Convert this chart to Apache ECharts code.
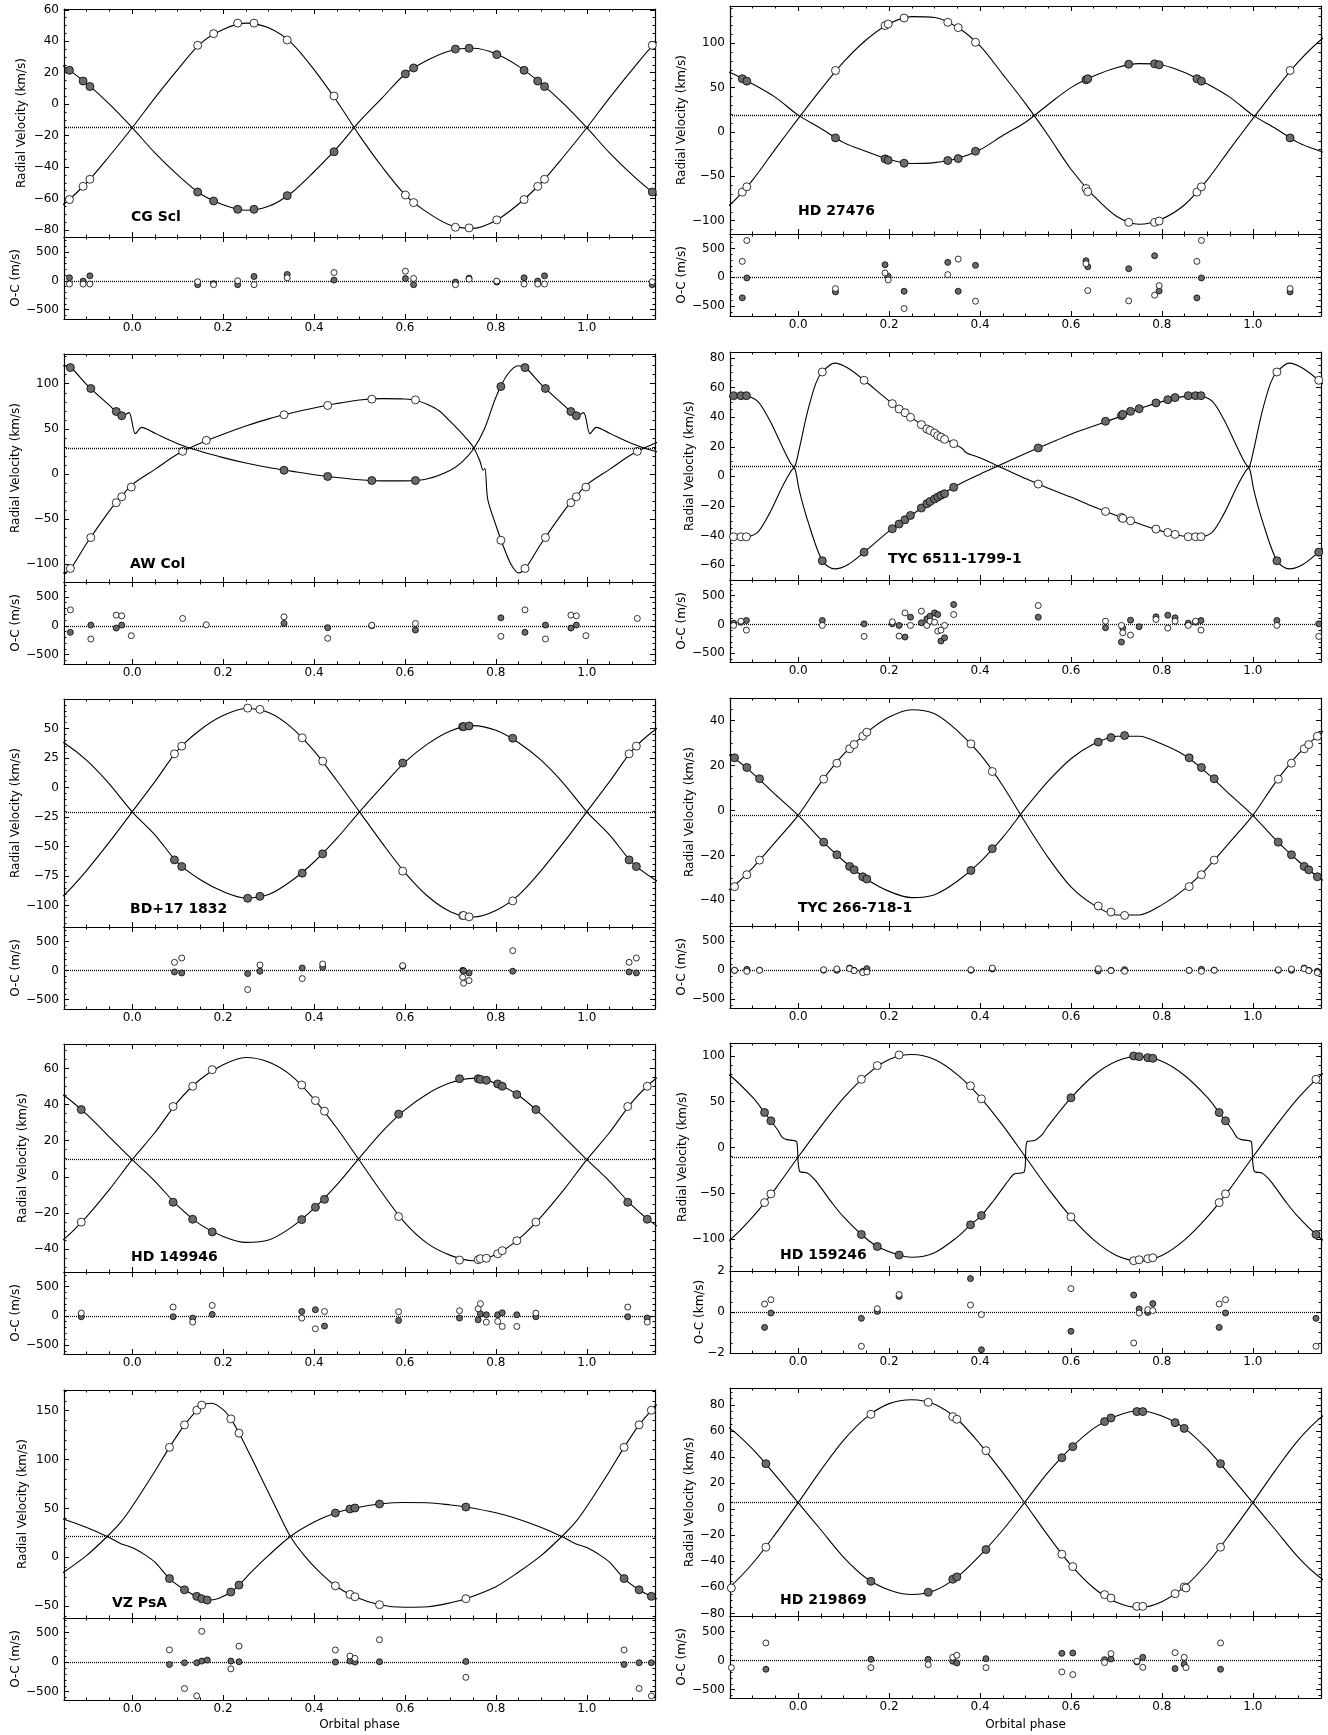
<!DOCTYPE html>
<html>
<head>
<meta charset="utf-8">
<title>Radial velocity curves</title>
<script src="https://cdn.jsdelivr.net/npm/echarts@6/dist/echarts.min.js"></script>
<style>
  html, body { margin: 0; padding: 0; background: #fff; }
  #chart { width: 1328px; height: 1735px; }
</style>
</head>
<body>
<div id="chart"></div>
<script>
// shared ticks
const phaseTicks = [0, 0.2, 0.4, 0.6, 0.8, 1.0];
const ocTicksMs = [-500, 0, 500];
const ocTicksKms = [-2, 0, 2];
const fitPhase = [0, 0.05, 0.1, 0.15, 0.2, 0.25, 0.3, 0.35, 0.4, 0.45, 0.5, 0.55, 0.6, 0.65, 0.7, 0.75, 0.8, 0.85, 0.9, 0.95];

// CG Scl
const cgSclPhase = [0.144, 0.179, 0.232, 0.268, 0.341, 0.444, 0.601, 0.619, 0.711, 0.741, 0.802, 0.862, 0.892, 0.907];
const cgSclRvFilled = [-55.9, -61.6, -66.9, -66.9, -58.2, -30.3, 19.2, 23.0, 35.0, 35.5, 31.5, 21.5, 14.7, 11.2];
const cgSclRvOpen = [37.4, 44.8, 51.5, 51.5, 40.8, 5.2, -57.8, -62.6, -78.3, -78.7, -73.6, -60.7, -52.3, -47.8];
const cgSclOcFilled = [-68, -50, -68, 74, 108, 11, 40, -68, -23, 45, -23, 51, -6, 85];
const cgSclOcOpen = [-17, -68, 0, -68, 51, 142, 165, 40, -68, 28, -6, -57, -57, -57];
const cgSclFitFilled = [-15, -31, -45, -57, -64, -67.5, -65, -56.5, -43, -28, -11, 4, 19, 28, 34, 35.5, 32, 24, 13, 0];
const cgSclFitOpen = [-15, 4, 22, 38.5, 47.5, 51.5, 48.5, 39, 22, 2, -20, -40, -57.5, -69, -77, -79, -74, -63.5, -50, -33];
const cgSclTicks = [-80, -60, -40, -20, 0, 20, 40, 60];

// HD 27476
const hd27476Phase = [0.082, 0.191, 0.198, 0.233, 0.329, 0.352, 0.39, 0.633, 0.637, 0.727, 0.784, 0.794, 0.877, 0.887];
const hd27476RvFilled = [-6.7, -30.3, -31.8, -35.2, -32.2, -30.0, -21.7, 58.8, 60.0, 76.4, 76.8, 75.7, 60.0, 57.3];
const hd27476RvOpen = [69.3, 119.9, 121.7, 128.5, 123.6, 117.6, 101.1, -63.7, -67.4, -101.9, -101.9, -100.4, -67.8, -61.8];
const hd27476OcFilled = [-253, 218, 17, -241, 259, -241, 207, 287, 184, 149, 374, -236, -356, -11];
const hd27476OcOpen = [-195, 75, -46, -540, 46, 316, -414, 236, -230, -408, -310, -144, 276, 638];
const hd27476FitFilled = [19, 4, -12, -22, -31, -35.5, -34.5, -30, -20, -4, 11, 31, 50, 63, 72.5, 77, 75.5, 67, 54, 39];
const hd27476FitOpen = [15, 48, 79, 104, 122, 130, 129, 118, 97, 65, 32, -4, -42, -72, -95, -104, -98, -82, -54, -19];
const hd27476Ticks = [-100, -50, 0, 50, 100];

// AW Col
const awColPhase = [0.111, 0.163, 0.334, 0.43, 0.527, 0.623, 0.811, 0.864, 0.909, 0.965, 0.977, 0.998];
const awColRvFilled = [null, null, 4.0, -2.9, -7.4, -7.4, 96.9, 117.9, 94.7, 69.2, 64.5, null];
const awColRvOpen = [25.0, 37.2, 65.6, 75.9, 82.9, 82.1, -73.7, -105.0, -70.7, -32.0, -25.4, -14.7];
const awColOcFilled = [null, null, 40, -34, 0, -74, 137, -114, 11, -40, 11, null];
const awColOcOpen = [126, 17, 154, -217, 10, 40, -183, 274, -229, 183, 171, -171];
const awColFitPhaseFilled = [0.007, 0.021, 0.05, 0.1, 0.15, 0.2, 0.25, 0.3, 0.35, 0.4, 0.45, 0.5, 0.55, 0.6, 0.65, 0.7, 0.725, 0.75, 0.775, 0.8, 0.825, 0.85, 0.865, 0.9, 0.95, 0.979, 0.993];
const awColFitFilled = [44.6, 51.6, 45, 33.5, 25, 18, 12, 7, 3, -1, -4, -6.5, -7.8, -7.8, -5.5, 4, 13, 27, 50, 85, 110, 120, 118, 99, 76, 64.5, 68];
const awColFitPhaseOpen = [0.0, 0.05, 0.1, 0.15, 0.2, 0.25, 0.3, 0.35, 0.4, 0.45, 0.5, 0.55, 0.6, 0.625, 0.65, 0.675, 0.7, 0.725, 0.75, 0.765, 0.772, 0.776, 0.782, 0.8, 0.82, 0.835, 0.85, 0.865, 0.9, 0.95, 0.975];
const awColFitOpen = [-12, 5, 22, 34, 44, 53, 61, 67.5, 73, 78, 82, 83.5, 83, 81.5, 77, 70, 58, 45, 30, 14, 4, 6, -28, -57, -85, -102, -110, -105, -77, -41, -26];
const awColTicks = [-100, -50, 0, 50, 100];

// TYC 6511-1799-1
const tyc6511Phase = [0.053, 0.145, 0.207, 0.222, 0.235, 0.247, 0.271, 0.283, 0.29, 0.3, 0.307, 0.314, 0.322, 0.342, 0.528, 0.676, 0.711, 0.714, 0.731, 0.75, 0.787, 0.813, 0.829, 0.858, 0.874, 0.886];
const tyc6511RvFilled = [-57, -51.2, -35.4, -32.2, -29.3, -26.4, -21.4, -18.5, -17.0, -15.3, -14.0, -12.8, -11.7, -7.4, 19.2, 37.2, 41.0, 41.9, 43.9, 45.7, 49.6, 51.8, 53.2, 54.5, 54.5, 54.5];
const tyc6511RvOpen = [70.5, 64.9, 49.1, 45.5, 43.0, 39.9, 34.9, 32.0, 31.0, 29.3, 27.5, 26.5, 25.0, 22.1, -5.2, -23.7, -27.7, -28.4, -30.0, null, -35.6, -37.9, -39.2, -40.8, -40.8, -40.8];
const tyc6511OcFilled = [69, 11, 11, -17, -218, 126, 29, 98, 144, 201, 172, -287, -230, 345, 126, -57, -305, -63, 75, -40, 132, 161, 115, 23, 40, 69];
const tyc6511OcOpen = [-17, -207, 46, -201, 201, -17, 230, -17, 57, 40, -115, -98, -17, 172, 328, 57, -17, -144, -184, null, 86, -63, 57, -17, 57, -98];
const tyc6511FitPhaseFilled = [0.002, 0.02, 0.053, 0.08, 0.11, 0.145, 0.2, 0.25, 0.3, 0.35, 0.4, 0.45, 0.5, 0.55, 0.6, 0.65, 0.7, 0.75, 0.8, 0.85, 0.88, 0.91, 0.937, 0.965, 0.983, 0.993];
const tyc6511FitFilled = [-9, -29, -57, -62.5, -59.5, -51.2, -37, -26, -15.3, -6, 1.5, 8.5, 15.5, 22, 28.5, 34, 39.5, 45.7, 50.5, 54, 54.5, 51, 38, 20, 9, 5];
const tyc6511FitPhaseOpen = [0.002, 0.02, 0.039, 0.053, 0.08, 0.11, 0.145, 0.2, 0.25, 0.3, 0.342, 0.36, 0.37, 0.4, 0.45, 0.5, 0.55, 0.6, 0.65, 0.7, 0.75, 0.8, 0.85, 0.88, 0.91, 0.937, 0.965, 0.983, 0.993];
const tyc6511FitOpen = [18, 43, 63, 70.5, 76.5, 73, 64.9, 51, 39.5, 29.3, 22.1, 19, 16, 12.5, 5.5, -1.5, -8, -14, -20.5, -26.5, -32, -37, -40.5, -40.8, -38, -25, -7, 3, 7];
const tyc6511Ticks = [-60, -40, -20, 0, 20, 40, 60, 80];

// BD+17 1832
const bd17Phase = [0.093, 0.109, 0.254, 0.281, 0.374, 0.419, 0.595, 0.727, 0.729, 0.741, 0.837];
const bd17RvFilled = [-61.2, -66.8, -93.7, -92.0, -72.4, -56.1, 20.8, 51.6, 51.6, 52.2, 41.8];
const bd17RvOpen = [28.6, 35.1, 67.3, 66.2, 42.1, 22.4, -70.7, -108.3, -108.3, -109.4, -95.9];
const bd17OcFilled = [-23, -40, -51, -11, 46, 57, 74, 5, -5, -40, -11];
const bd17OcOpen = [143, 217, -326, 97, -137, 114, 86, -114, -217, -171, 343];
const bd17FitFilled = [-20.5, -40, -63.5, -78, -88, -93.5, -90.5, -79, -63, -43, -20.5, 1, 21.5, 37, 48, 52.5, 48.5, 38, 23, 3];
const bd17FitOpen = [-20.5, 5, 31.5, 49, 61, 67, 63.5, 51, 31, 6, -20.5, -47, -72, -92, -105, -109.5, -104, -91, -70, -46];
const bd17Ticks = [-100, -75, -50, -25, 0, 25, 50];

// TYC 266-718-1
const tyc266Phase = [0.056, 0.085, 0.113, 0.123, 0.142, 0.151, 0.38, 0.427, 0.66, 0.688, 0.718, 0.86, 0.887, 0.915];
const tyc266RvFilled = [-14.1, -19.7, -24.9, -26.4, -29.5, -30.5, -26.7, -17.0, 30.4, 32.4, 33.3, 23.4, 19.1, 14.1];
const tyc266RvOpen = [13.9, 21.0, 27.4, 29.3, 33.0, 34.8, 29.6, 17.3, -42.5, -45.2, -46.7, -33.9, -28.6, -22.1];
const tyc266OcFilled = [0, 0, 40, 0, -17, 29, 0, 23, -11, 0, 11, 0, 17, 5];
const tyc266OcOpen = [11, 23, 29, -6, -40, -29, 11, 40, 29, -6, -17, 0, -17, 0];
const tyc266FitFilled = [-2.2, -13, -22.5, -30.5, -36, -38.8, -37.5, -31.5, -23, -12, 1, 13, 23, 29.5, 33, 33, 29.5, 24.5, 16.5, 7];
const tyc266FitOpen = [-2.2, 12.5, 25, 34.5, 41.5, 44.8, 43, 35.5, 25, 11, -5.5, -21, -34, -42, -46.5, -46.5, -42, -35, -25.5, -14];
const tyc266Ticks = [-40, -20, 0, 20, 40];

// HD 149946
const hd149946Phase = [0.09, 0.133, 0.176, 0.373, 0.403, 0.423, 0.586, 0.72, 0.761, 0.766, 0.779, 0.804, 0.814, 0.846, 0.888];
const hd149946RvFilled = [-14.1, -23.5, -30.5, -23.7, -16.9, -12.5, 34.7, 54.3, 54.3, 53.9, 53.4, 51.4, 50.1, 45.5, 37.2];
const hd149946RvOpen = [38.9, 50.1, 59.3, 50.8, 42.2, 36.3, -22.0, -46.1, -45.9, -45.3, -45.1, -42.6, -40.9, -35.4, -25.1];
const hd149946OcFilled = [-17, -40, 23, 74, 103, -177, -80, -40, -69, 34, 17, 17, 51, 17, -17];
const hd149946OcOpen = [149, -109, 177, -40, -223, 74, 69, 86, 120, 206, -109, -97, -183, -183, 46];
const hd149946FitFilled = [9.5, -2.5, -16, -26.5, -33, -36.3, -35, -28, -17.5, -4.5, 10.5, 25, 37, 46, 52, 54.5, 51.8, 45, 34.5, 22];
const hd149946FitOpen = [9.5, 24.5, 41.5, 54, 62, 66, 63.5, 56, 43, 27, 9, -9, -25.5, -37, -43.5, -46.5, -43, -34.5, -22, -7];
const hd149946Ticks = [-40, -20, 0, 20, 40, 60];

// HD 159246 (O-C in km/s)
const hd159246Phase = [0.139, 0.174, 0.222, 0.379, 0.403, 0.6, 0.738, 0.75, 0.769, 0.78, 0.926, 0.94];
const hd159246RvFilled = [-95.1, -108.2, -117.6, -84.6, -74.4, 54.1, 99.8, 99.1, 98.0, 97.3, 38.1, 29.0];
const hd159246RvOpen = [74.4, 89.3, 100.9, 67.2, 53.0, -75.9, -123.8, -122.7, -121.6, -120.5, -60.3, -50.8];
const hd159246OcFilled = [-0.31, 0.03, 0.76, 1.63, -1.84, -0.94, 0.83, 0.15, -0.02, 0.41, -0.75, -0.05];
const hd159246OcOpen = [-1.67, 0.16, 0.85, 0.34, -0.13, 1.14, -1.51, -0.05, 0.11, 0.07, 0.39, 0.6];
const hd159246FitPhaseFilled = [0.003, 0.02, 0.035, 0.05, 0.075, 0.1, 0.139, 0.174, 0.222, 0.25, 0.3, 0.35, 0.379, 0.403, 0.43, 0.45, 0.465, 0.475, 0.497, 0.503, 0.52, 0.535, 0.55, 0.6, 0.65, 0.7, 0.75, 0.8, 0.85, 0.9, 0.926, 0.94, 0.955, 0.965, 0.975, 0.99, 0.997];
const hd159246FitFilled = [-26, -28, -34.5, -44, -61, -76, -95.1, -108.2, -117.6, -120, -115, -98, -84.6, -74.4, -58, -44.5, -34.5, -29, -27, 6, 7.5, 13, 23.5, 54, 78.5, 94, 99.5, 94, 78.5, 54.5, 38.1, 29, 19, 11, 8.5, 7.5, 6];
const hd159246FitOpen = [-10.5, 23, 54, 79, 96, 101.5, 96, 79.5, 55, 24, -10.5, -45, -76, -101, -118, -124, -118, -101, -76, -45];
const hd159246Ticks = [-100, -50, 0, 50, 100];

// VZ PsA
const vzPsAPhase = [0.082, 0.115, 0.142, 0.153, 0.165, 0.217, 0.235, 0.447, 0.479, 0.49, 0.544, 0.734];
const vzPsARvFilled = [-21.7, -33.2, -39.9, -42.3, -43.7, -35.5, -28.4, 45.3, 49.4, 50.4, 54.5, 51.4];
const vzPsARvOpen = [112.4, 135.4, 150.3, 155.6, null, 141.5, 126.9, -29.1, -37.9, -40.3, -48.4, -42.3];
const vzPsAOcFilled = [-40, -11, -11, 17, 34, 17, 6, 0, 17, 0, 6, 11];
const vzPsAOcOpen = [206, -446, -571, 520, null, -114, 269, 206, 103, 63, 377, -257];
const vzPsAFitPhaseFilled = [0.0, 0.03, 0.05, 0.082, 0.115, 0.142, 0.165, 0.19, 0.217, 0.235, 0.26, 0.3, 0.348, 0.4, 0.447, 0.49, 0.544, 0.6, 0.65, 0.7, 0.734, 0.8, 0.85, 0.9, 0.945, 0.975];
const vzPsAFitFilled = [10, 2, -5, -21.7, -33.2, -39.9, -43.7, -42, -35.5, -28.4, -16, 2, 21.3, 36, 45.3, 50.4, 54.5, 56, 55.8, 53.5, 51.4, 45.5, 39, 30.5, 21.3, 14];
const vzPsAFitPhaseOpen = [0.0, 0.05, 0.082, 0.115, 0.142, 0.153, 0.175, 0.2, 0.217, 0.235, 0.26, 0.28, 0.3, 0.32, 0.348, 0.38, 0.41, 0.447, 0.49, 0.544, 0.6, 0.65, 0.7, 0.734, 0.8, 0.85, 0.9, 0.945, 0.975];
const vzPsAFitOpen = [52, 88, 112.4, 135.4, 150.3, 155.6, 157.5, 151, 141.5, 127, 104, 85, 66, 47, 21.3, 1, -14, -29, -40.3, -48.4, -51, -50.5, -46.5, -42.3, -30, -15, 2, 21.3, 36];
const vzPsATicks = [-50, 0, 50, 100, 150];

// HD 219869
const hd219869Phase = [0.16, 0.286, 0.34, 0.349, 0.413, 0.58, 0.604, 0.674, 0.688, 0.745, 0.758, 0.829, 0.849, 0.853, 0.929];
const hd219869RvFilled = [-55.4, -63.8, -53.8, -52.0, -31.0, 39.5, 48.0, 67.2, 70.0, 74.9, 74.9, 66.4, 62.0, null, 34.9];
const hd219869RvOpen = [72.8, 82.0, 71.0, 69.0, 44.9, -34.6, -44.1, -65.6, -68.2, -74.6, -74.6, -64.9, -59.7, -60.5, -29.2];
const hd219869OcFilled = [23, 23, -11, -40, 34, 126, 132, 17, 29, -23, 57, -138, -63, null, -149];
const hd219869OcOpen = [-121, -69, 57, 92, -121, -195, -241, -34, 121, -11, -115, 138, 57, -121, 305];
const hd219869FitFilled = [5, -16, -37, -53, -62, -65.5, -62.5, -52, -35.5, -16, 6, 28.5, 47, 62, 71.5, 75.5, 71.5, 62, 46, 26];
const hd219869FitOpen = [5, 30, 53, 70.5, 81, 84, 80.5, 69, 50, 28, 4, -20.5, -43, -60.5, -71.5, -75.5, -71, -59.5, -41.5, -19];
const hd219869Ticks = [-80, -60, -40, -20, 0, 20, 40, 60, 80];

const panels = [
  { name: 'CG Scl', col: 0, row: 0, phase: cgSclPhase, rvF: cgSclRvFilled, rvO: cgSclRvOpen, ocF: cgSclOcFilled, ocO: cgSclOcOpen,
    fitPF: fitPhase, fitF: cgSclFitFilled, fitPO: fitPhase, fitO: cgSclFitOpen, gamma: -14.5,
    rvTicks: cgSclTicks, rvMinor: 5, rvRange: [-84.5, 60.5], ocTicks: ocTicksMs, ocMinor: 100, ocRange: [-660, 755], ocName: 'O-C (m/s)',
    label: [131, 219], rvTitleX: 21.5, ocTitleX: 16 },
  { name: 'HD 27476', col: 1, row: 0, phase: hd27476Phase, rvF: hd27476RvFilled, rvO: hd27476RvOpen, ocF: hd27476OcFilled, ocO: hd27476OcOpen,
    fitPF: fitPhase, fitF: hd27476FitFilled, fitPO: fitPhase, fitO: hd27476FitOpen, gamma: 18.4,
    rvTicks: hd27476Ticks, rvMinor: 10, rvRange: [-115, 142], ocTicks: ocTicksMs, ocMinor: 100, ocRange: [-670, 750], ocName: 'O-C (m/s)',
    label: [798, 213], rvTitleX: 682, ocTitleX: 682 },
  { name: 'AW Col', col: 0, row: 1, phase: awColPhase, rvF: awColRvFilled, rvO: awColRvOpen, ocF: awColOcFilled, ocO: awColOcOpen,
    fitPF: awColFitPhaseFilled, fitF: awColFitFilled, fitPO: awColFitPhaseOpen, fitO: awColFitOpen, gamma: 28.7,
    rvTicks: awColTicks, rvMinor: 10, rvRange: [-120, 133], ocTicks: ocTicksMs, ocMinor: 100, ocRange: [-660, 755], ocName: 'O-C (m/s)',
    label: [130, 566], rvTitleX: 15.5, ocTitleX: 16 },
  { name: 'TYC 6511-1799-1', col: 1, row: 1, phase: tyc6511Phase, rvF: tyc6511RvFilled, rvO: tyc6511RvOpen, ocF: tyc6511OcFilled, ocO: tyc6511OcOpen,
    fitPF: tyc6511FitPhaseFilled, fitF: tyc6511FitFilled, fitPO: tyc6511FitPhaseOpen, fitO: tyc6511FitOpen, gamma: 6.8,
    rvTicks: tyc6511Ticks, rvMinor: 5, rvRange: [-70, 84], ocTicks: ocTicksMs, ocMinor: 100, ocRange: [-650, 770], ocName: 'O-C (m/s)',
    label: [888, 561], rvTitleX: 690, ocTitleX: 682 },
  { name: 'BD+17 1832', col: 0, row: 2, phase: bd17Phase, rvF: bd17RvFilled, rvO: bd17RvOpen, ocF: bd17OcFilled, ocO: bd17OcOpen,
    fitPF: fitPhase, fitF: bd17FitFilled, fitPO: fitPhase, fitO: bd17FitOpen, gamma: -20.5,
    rvTicks: bd17Ticks, rvMinor: 5, rvRange: [-118, 75], ocTicks: ocTicksMs, ocMinor: 100, ocRange: [-660, 750], ocName: 'O-C (m/s)',
    label: [130, 911], rvTitleX: 15.5, ocTitleX: 16 },
  { name: 'TYC 266-718-1', col: 1, row: 2, phase: tyc266Phase, rvF: tyc266RvFilled, rvO: tyc266RvOpen, ocF: tyc266OcFilled, ocO: tyc266OcOpen,
    fitPF: fitPhase, fitF: tyc266FitFilled, fitPO: fitPhase, fitO: tyc266FitOpen, gamma: -2.2,
    rvTicks: tyc266Ticks, rvMinor: 5, rvRange: [-51.4, 50], ocTicks: ocTicksMs, ocMinor: 100, ocRange: [-650, 765], ocName: 'O-C (m/s)',
    label: [798, 910], rvTitleX: 690, ocTitleX: 682 },
  { name: 'HD 149946', col: 0, row: 3, phase: hd149946Phase, rvF: hd149946RvFilled, rvO: hd149946RvOpen, ocF: hd149946OcFilled, ocO: hd149946OcOpen,
    fitPF: fitPhase, fitF: hd149946FitFilled, fitPO: fitPhase, fitO: hd149946FitOpen, gamma: 9.5,
    rvTicks: hd149946Ticks, rvMinor: 5, rvRange: [-52.7, 73.5], ocTicks: ocTicksMs, ocMinor: 100, ocRange: [-655, 750], ocName: 'O-C (m/s)',
    label: [131, 1259], rvTitleX: 22.5, ocTitleX: 16 },
  { name: 'HD 159246', col: 1, row: 3, phase: hd159246Phase, rvF: hd159246RvFilled, rvO: hd159246RvOpen, ocF: hd159246OcFilled, ocO: hd159246OcOpen,
    fitPF: hd159246FitPhaseFilled, fitF: hd159246FitFilled, fitPO: fitPhase, fitO: hd159246FitOpen, gamma: -10.5,
    rvTicks: hd159246Ticks, rvMinor: 10, rvRange: [-135, 114], ocTicks: ocTicksKms, ocMinor: 0.5, ocRange: [-2, 2], ocName: 'O-C (km/s)',
    label: [780, 1257], rvTitleX: 683, ocTitleX: 700 },
  { name: 'VZ PsA', col: 0, row: 4, phase: vzPsAPhase, rvF: vzPsARvFilled, rvO: vzPsARvOpen, ocF: vzPsAOcFilled, ocO: vzPsAOcOpen,
    fitPF: vzPsAFitPhaseFilled, fitF: vzPsAFitFilled, fitPO: vzPsAFitPhaseOpen, fitO: vzPsAFitOpen, gamma: 21.3,
    rvTicks: vzPsATicks, rvMinor: 10, rvRange: [-62, 171], ocTicks: ocTicksMs, ocMinor: 100, ocRange: [-640, 745], ocName: 'O-C (m/s)',
    label: [112, 1605], rvTitleX: 22.5, ocTitleX: 16 },
  { name: 'HD 219869', col: 1, row: 4, phase: hd219869Phase, rvF: hd219869RvFilled, rvO: hd219869RvOpen, ocF: hd219869OcFilled, ocO: hd219869OcOpen,
    fitPF: fitPhase, fitF: hd219869FitFilled, fitPO: fitPhase, fitO: hd219869FitOpen, gamma: 5.1,
    rvTicks: hd219869Ticks, rvMinor: 5, rvRange: [-82, 93], ocTicks: ocTicksMs, ocMinor: 100, ocRange: [-645, 770], ocName: 'O-C (m/s)',
    label: [780, 1602], rvTitleX: 690, ocTitleX: 682 }
];

// layout
const colLeft = [64, 730];
const plotWidth = 591;
const rowTops = [[9, 354, 699, 1044, 1390], [6, 352, 698, 1043, 1388]];
const rvHeight = 228;
const ocHeight = 82;
const FILL = '#6b6b6b';
const FONT = 'DejaVu Sans';
const DOTS = [1, 1];

const grids = [], xAxes = [], yAxes = [], series = [], graphics = [];

function minorTicks(lo, hi, step, majors) {
  const out = [];
  const a = Math.ceil(lo / step - 1e-9), b = Math.floor(hi / step + 1e-9);
  for (let k = a; k <= b; k++) {
    const v = +(k * step).toFixed(6);
    if (!majors.some(m => Math.abs(m - v) < step * 1e-3)) out.push(v);
  }
  return out;
}

// copy phased points one cycle left and right, keep what falls in [lo, hi]
function wrap(ph, vals, lo, hi) {
  const out = [];
  for (let k = -1; k <= 1; k++) {
    ph.forEach((p, i) => {
      const x = p + k;
      if (vals[i] != null && x >= lo && x <= hi) out.push([x, vals[i]]);
    });
  }
  return out.sort((a, b) => a[0] - b[0]);
}

const fmtNum = v => (v < 0 ? '\u2212' + (-v) : String(v));
const fmtPhase = v => v.toFixed(1);
const phaseMinor = minorTicks(-0.15, 1.15, 0.05, phaseTicks);

function addAxes(gi, dim, min, max, majors, minors, showLabels, formatter) {
  const list = dim === 'x' ? xAxes : yAxes;
  const sides = dim === 'x' ? ['bottom', 'top'] : ['left', 'right'];
  const main = list.length;
  sides.forEach((pos, s) => {
    list.push({
      gridIndex: gi, type: 'value', position: pos, min: min, max: max,
      splitLine: { show: false },
      axisLine: { show: true, onZero: false, lineStyle: { color: '#000', width: 1.2 } },
      axisTick: { show: true, inside: true, length: 5, customValues: majors, lineStyle: { color: '#000', width: 1 } },
      axisLabel: { show: s === 0 && showLabels, customValues: majors, formatter: formatter,
        margin: dim === 'x' ? 3 : 5, color: '#000', fontSize: 12, fontFamily: FONT }
    });
    list.push({
      gridIndex: gi, type: 'value', position: pos, min: min, max: max,
      splitLine: { show: false },
      axisLine: { show: false, onZero: false },
      axisTick: { show: true, inside: true, length: 2.5, customValues: minors, lineStyle: { color: '#000', width: 1 } },
      axisLabel: { show: false }
    });
  });
  return main;
}

function fitLine(xi, yi, data, level) {
  const s = {
    type: 'line', xAxisIndex: xi, yAxisIndex: yi, data: data,
    showSymbol: false, smooth: 0.3, clip: true, z: 2,
    lineStyle: { color: '#000', width: 1.1 }, silent: true
  };
  if (level != null) {
    s.markLine = { silent: true, symbol: 'none', label: { show: false },
      lineStyle: { color: '#000', width: 1.3, type: DOTS }, data: [{ yAxis: level }] };
  }
  return s;
}

function dots(xi, yi, data, color, size, level) {
  const s = {
    type: 'scatter', xAxisIndex: xi, yAxisIndex: yi, data: data, symbol: 'circle', symbolSize: size,
    clip: true, z: 3, silent: true,
    itemStyle: { color: color, borderColor: '#000', borderWidth: 0.8, opacity: 1 }
  };
  if (level != null) {
    s.markLine = { silent: true, symbol: 'none', label: { show: false }, z: 1,
      lineStyle: { color: '#000', width: 1.3, type: DOTS }, data: [{ yAxis: level }] };
  }
  return s;
}

function title(text, x, y, vertical) {
  graphics.push({
    type: 'text', x: x, y: y, rotation: vertical ? Math.PI / 2 : 0, silent: true, z: 100,
    style: { text: text, font: '12px "DejaVu Sans"', fill: '#000', align: 'center', verticalAlign: 'middle' }
  });
}

panels.forEach(p => {
  const left = colLeft[p.col];
  const top = rowTops[p.col][p.row];

  const gRv = grids.length;
  grids.push({ left: left, top: top, width: plotWidth, height: rvHeight, outerBoundsMode: 'none' });
  const xRv = addAxes(gRv, 'x', -0.15, 1.15, phaseTicks, phaseMinor, false, fmtPhase);
  const yRv = addAxes(gRv, 'y', p.rvRange[0], p.rvRange[1], p.rvTicks,
    minorTicks(p.rvRange[0], p.rvRange[1], p.rvMinor, p.rvTicks), true, fmtNum);

  const gOc = grids.length;
  grids.push({ left: left, top: top + rvHeight, width: plotWidth, height: ocHeight, outerBoundsMode: 'none' });
  const xOc = addAxes(gOc, 'x', -0.15, 1.15, phaseTicks, phaseMinor, true, fmtPhase);
  const yOc = addAxes(gOc, 'y', p.ocRange[0], p.ocRange[1], p.ocTicks,
    minorTicks(p.ocRange[0], p.ocRange[1], p.ocMinor, p.ocTicks), true, fmtNum);

  series.push(fitLine(xRv, yRv, wrap(p.fitPF, p.fitF, -0.35, 1.35), p.gamma));
  series.push(fitLine(xRv, yRv, wrap(p.fitPO, p.fitO, -0.35, 1.35)));
  series.push(dots(xRv, yRv, wrap(p.phase, p.rvF, -0.156, 1.156), FILL, 8));
  series.push(dots(xRv, yRv, wrap(p.phase, p.rvO, -0.156, 1.156), '#fff', 8));
  series.push(dots(xOc, yOc, wrap(p.phase, p.ocF, -0.156, 1.156), FILL, 6, 0));
  series.push(dots(xOc, yOc, wrap(p.phase, p.ocO, -0.156, 1.156), '#fff', 6));

  graphics.push({
    type: 'text', left: p.label[0], top: p.label[1] - 9, z: 100, silent: true,
    style: { text: p.name, font: 'bold 14px "DejaVu Sans"', fill: '#000' }
  });
  title('Radial Velocity (km/s)', p.rvTitleX, top + rvHeight / 2, true);
  title(p.ocName, p.ocTitleX, top + rvHeight + ocHeight / 2, true);
  if (p.row === 4) title('Orbital phase', left + plotWidth / 2, 1725, false);
});

const chart = echarts.init(document.getElementById('chart'), null, { renderer: 'canvas' });
chart.setOption({
  animation: false,
  backgroundColor: '#fff',
  textStyle: { fontFamily: FONT },
  grid: grids,
  xAxis: xAxes,
  yAxis: yAxes,
  series: series,
  graphic: graphics
});
</script>
</body>
</html>
